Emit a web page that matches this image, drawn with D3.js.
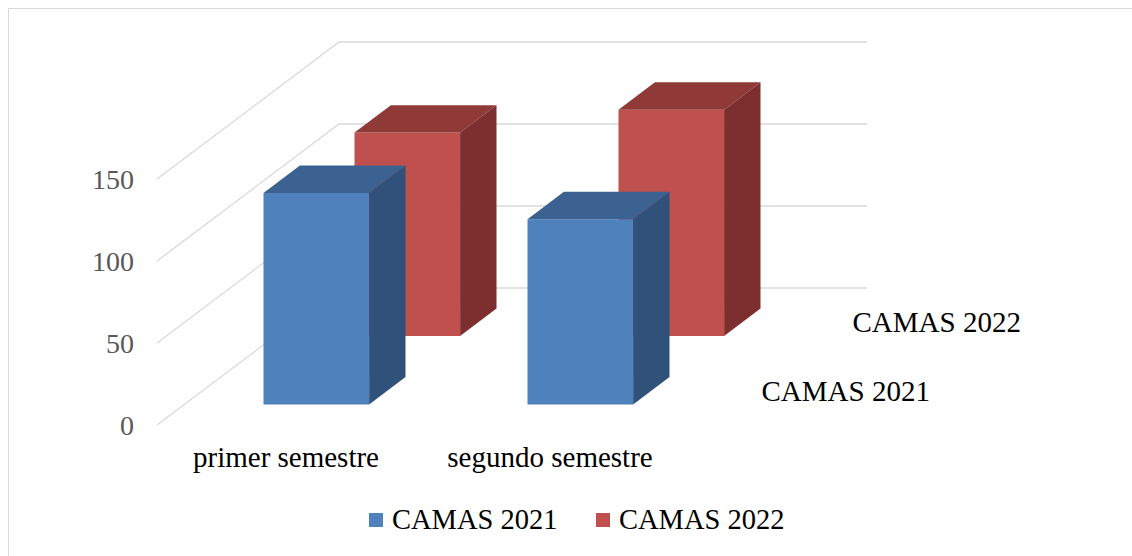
<!DOCTYPE html>
<html>
<head>
<meta charset="utf-8">
<script src="https://cdn.jsdelivr.net/npm/d3@7"></script>
<style>
  body { margin: 0; background: #fff; }
  svg text { font-family: "Liberation Serif", serif; }
</style>
</head>
<body>
<div id="chart-area"></div>
<script>
var categories = ["primer semestre", "segundo semestre"];
var seriesNames = ["CAMAS 2021", "CAMAS 2022"];
var camas2021 = [129, 113];
var camas2022 = [124, 138];
var tickValues = [0, 50, 100, 150];

var seriesValues = [camas2021, camas2022];
var seriesColors = [
  { front: "#4f81bd", top: "#3c6291", side: "#30527a" },
  { front: "#c0504d", top: "#903a38", side: "#7c2f2e" }
];

var svgWidth = 1132,
    svgHeight = 556;

// floor front edge and the depth vector of the 3d box
var floorLeft = 157,
    floorRight = 685,
    floorY = 425,
    depthDx = 182,
    depthDy = -137;

var svg = d3.select("#chart-area")
            .append("svg")
            .attr("width", svgWidth)
            .attr("height", svgHeight)
            .attr("font-family", "Liberation Serif, serif");

svg.append("rect")
   .attr("x", 8.5)
   .attr("y", 8.5)
   .attr("width", 1130)
   .attr("height", 560)
   .attr("fill", "none")
   .attr("stroke", "#d9d9d9")
   .attr("stroke-width", 1);

var x = d3.scaleBand()
          .domain(categories)
          .range([floorLeft, floorRight])
          .paddingInner(0.6)
          .paddingOuter(0.3);

var z = d3.scaleBand()
          .domain(seriesNames)
          .range([0, 1])
          .paddingInner(0.6)
          .paddingOuter(0.3);

var y = d3.scaleLinear().domain([0, 150]).range([0, 246]);

function proj(px, d, v) {
  return [px + d * depthDx, floorY + d * depthDy - y(v)];
}

function poly(pts) {
  return "M" + pts.map(function(p) { return p[0] + "," + p[1]; }).join("L") + "Z";
}

var grid = svg.append("g").attr("class", "grid");

tickValues.forEach(function(t) {
  var a = proj(floorLeft, 0, t),
      b = proj(floorLeft, 1, t),
      c = proj(floorRight, 1, t);
  grid.append("path")
      .attr("d", "M" + a + "L" + b + "L" + c)
      .attr("fill", "none")
      .attr("stroke", "#d9d9d9")
      .attr("stroke-width", 1.3);
});

svg.append("g")
   .selectAll("text")
   .data(tickValues)
   .enter().append("text")
   .attr("x", floorLeft - 23)
   .attr("y", function(d) { return proj(floorLeft, 0, d)[1] + 10; })
   .attr("text-anchor", "end")
   .attr("fill", "#595959")
   .attr("font-size", "28px")
   .text(function(d) { return d; });

// back row first so the front row covers it
var bars = svg.append("g").attr("class", "bars");

d3.range(seriesNames.length).reverse().forEach(function(s) {
  var d0 = z(seriesNames[s]),
      d1 = d0 + z.bandwidth(),
      col = seriesColors[s];
  categories.forEach(function(cat, i) {
    var v = seriesValues[s][i],
        x0 = x(cat),
        x1 = x0 + x.bandwidth();
    var g = bars.append("g");
    g.append("path")
     .attr("d", poly([proj(x0, d0, 0), proj(x1, d0, 0), proj(x1, d0, v), proj(x0, d0, v)]))
     .attr("fill", col.front);
    g.append("path")
     .attr("d", poly([proj(x0, d0, v), proj(x1, d0, v), proj(x1, d1, v), proj(x0, d1, v)]))
     .attr("fill", col.top);
    g.append("path")
     .attr("d", poly([proj(x1, d0, 0), proj(x1, d1, 0), proj(x1, d1, v), proj(x1, d0, v)]))
     .attr("fill", col.side);
  });
});

svg.append("g")
   .selectAll("text")
   .data(categories)
   .enter().append("text")
   .attr("x", function(d) { return x(d) + x.bandwidth() / 2 - 3; })
   .attr("y", floorY + 42)
   .attr("text-anchor", "middle")
   .attr("fill", "#000")
   .attr("font-size", "29px")
   .text(function(d) { return d; });

// depth axis labels on the right edge of the floor
svg.append("g")
   .selectAll("text")
   .data(seriesNames)
   .enter().append("text")
   .attr("x", function(d) { return proj(floorRight, z(d) + z.bandwidth() / 2, 0)[0] + 31; })
   .attr("y", function(d) { return proj(floorRight, z(d) + z.bandwidth() / 2, 0)[1] + 10; })
   .attr("fill", "#000")
   .attr("font-size", "29px")
   .text(function(d) { return d; });

var legend = svg.append("g").attr("class", "legend");
var legendX = [369, 596];

seriesNames.forEach(function(name, i) {
  legend.append("rect")
        .attr("x", legendX[i])
        .attr("y", 513)
        .attr("width", 14)
        .attr("height", 14)
        .attr("fill", seriesColors[i].front);
  legend.append("text")
        .attr("x", legendX[i] + 23)
        .attr("y", 529)
        .attr("fill", "#000")
        .attr("font-size", "28.5px")
        .text(name);
});
</script>
</body>
</html>
